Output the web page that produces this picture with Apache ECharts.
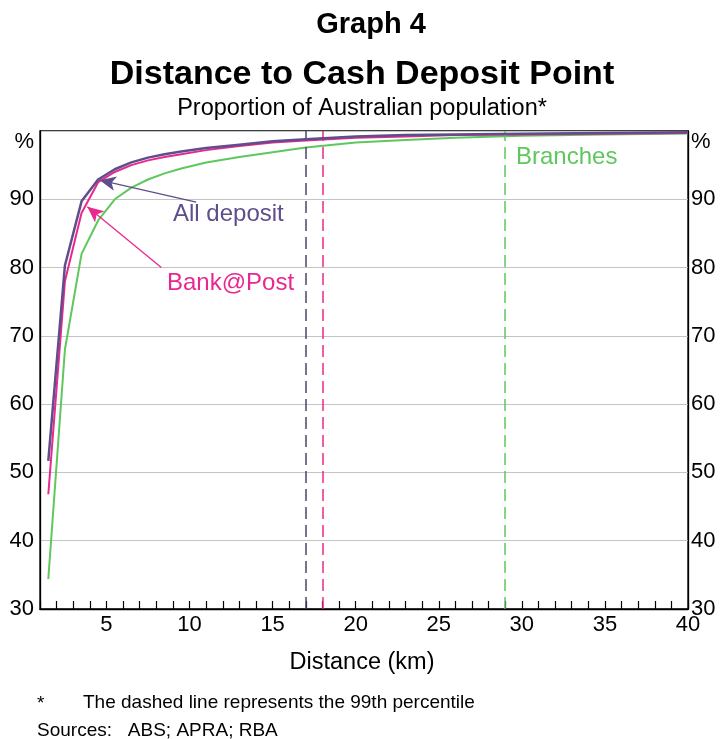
<!DOCTYPE html>
<html>
<head>
<meta charset="utf-8">
<script src="https://cdn.jsdelivr.net/npm/echarts@6/dist/echarts.min.js"></script>
<style>
html,body{margin:0;padding:0;background:#fff;}
#c{width:721px;height:739px;}
</style>
</head>
<body>
<div id="c"></div>
<script>
// Distance (km)
const distanceKm = [1.5, 2.5, 3.5, 4.5, 5.5, 6.5, 7.5, 8.5, 9.5, 11, 13, 15, 17, 20, 23, 26, 30, 35, 40];
// Cumulative share of population (%)
const allDeposit = [51.7, 80.3, 89.7, 92.9, 94.4, 95.4, 96.1, 96.6, 97.0, 97.5, 98.0, 98.5, 98.8, 99.2, 99.4, 99.5, 99.6, 99.7, 99.8];
const bankAtPost = [46.8, 78.0, 88.0, 92.5, 94.0, 95.0, 95.7, 96.2, 96.6, 97.2, 97.8, 98.3, 98.6, 99.0, 99.2, 99.4, 99.5, 99.6, 99.7];
const branches   = [34.4, 68.0, 82.0, 86.9, 90.0, 91.7, 92.9, 93.8, 94.5, 95.4, 96.2, 96.9, 97.6, 98.3, 98.7, 99.0, 99.3, 99.5, 99.65];
// 99th percentile distances (km)
const p99 = { allDeposit: 17, bankAtPost: 18, branches: 29 };
// Annotation arrows [from, to] in data units
const arrowAll  = [[10.4, 89.6], [4.6, 92.8]];
const arrowBank = [[8.3, 80.0], [3.85, 88.9]];

const PURPLE = '#5f4d8c', PINK = '#e8288e', GREEN = '#5ec75e';
const FONT = '"Liberation Sans", Arial, sans-serif';

function pairs(xs, ys){ return xs.map((x,i)=>[x, ys[i]]); }
function yLab(v){ return v === 100 ? '{p|%}' : String(v); }
function arrow(a, color){
  return [
    { coord: a[0], symbol: 'none', lineStyle: { color: color, width: 1.3, type: 'solid' } },
    { coord: a[1], symbol: 'arrow', symbolSize: [11, 16] }
  ];
}
function txt(x, y, s, size, color, align, bold){
  return { type: 'text', x: x, y: y, silent: true,
    style: { text: s, fill: color, font: (bold ? 'bold ' : '') + size + 'px ' + FONT,
      align: align || 'left', verticalAlign: 'middle' } };
}

const chart = echarts.init(document.getElementById('c'));
chart.setOption({
  animation: false,
  backgroundColor: '#fff',
  textStyle: { fontFamily: FONT },
  grid: { left: 40, right: 33, top: 131, bottom: 130, show: true, borderColor: '#000', borderWidth: 1.3 },
  xAxis: {
    type: 'value', min: 1, max: 40, interval: 1,
    axisLine: { lineStyle: { color: '#000', width: 1.3 } },
    axisTick: { inside: true, length: 8, lineStyle: { color: '#000', width: 1.2 } },
    axisLabel: { fontFamily: FONT, fontSize: 22, color: '#000', margin: 5,
      formatter: v => (v % 5 === 0 ? String(v) : '') },
    splitLine: { show: false }
  },
  yAxis: [
    { type: 'value', min: 30, max: 100, interval: 10, position: 'left',
      axisLine: { show: true, lineStyle: { color: '#000', width: 1.3 } }, axisTick: { show: false },
      axisLabel: { fontFamily: FONT, fontSize: 22, color: '#000', margin: 6, formatter: yLab,
        rich: { p: { fontFamily: FONT, fontSize: 22, color: '#000', padding: [22, 0, 0, 0] } } },
      splitLine: { lineStyle: { color: '#c4c4c4', width: 1.2 } } },
    { type: 'value', min: 30, max: 100, interval: 10, position: 'right',
      axisLine: { show: true, lineStyle: { color: '#000', width: 1.3 } }, axisTick: { show: false },
      axisLabel: { fontFamily: FONT, fontSize: 22, color: '#000', margin: 3, formatter: yLab,
        rich: { p: { fontFamily: FONT, fontSize: 22, color: '#000', padding: [22, 0, 0, 0] } } },
      splitLine: { show: false } }
  ],
  series: [
    { name: 'Branches', type: 'line', data: pairs(distanceKm, branches), showSymbol: false,
      lineStyle: { color: GREEN, width: 2 }, z: 3,
      markLine: { silent: true, symbol: ['none','none'], label: { show: false },
        lineStyle: { color: GREEN, width: 1.5, type: [12, 6] },
        data: [{ xAxis: p99.branches }] } },
    { name: 'Bank@Post', type: 'line', data: pairs(distanceKm, bankAtPost), showSymbol: false,
      lineStyle: { color: PINK, width: 2 }, z: 4,
      markLine: { silent: true, symbol: ['none','none'], label: { show: false },
        lineStyle: { color: PINK, width: 1.5, type: [12, 6] },
        data: [{ xAxis: p99.bankAtPost }, arrow(arrowBank, PINK)] } },
    { name: 'All deposit', type: 'line', data: pairs(distanceKm, allDeposit), showSymbol: false,
      lineStyle: { color: PURPLE, width: 2.5 }, z: 5,
      markLine: { silent: true, symbol: ['none','none'], label: { show: false },
        lineStyle: { color: '#4e4468', width: 1.5, type: [12, 6] },
        data: [{ xAxis: p99.allDeposit }, arrow(arrowAll, PURPLE)] } }
  ],
  graphic: [
    txt(371, 25, 'Graph 4', 29, '#000', 'center', true),
    txt(362, 75, 'Distance to Cash Deposit Point', 34, '#000', 'center', true),
    txt(362, 109, 'Proportion of Australian population*', 23.5, '#000', 'center', false),
    txt(173, 214, 'All deposit', 24, PURPLE),
    txt(167, 283, 'Bank@Post', 24, PINK),
    txt(516, 157, 'Branches', 24, GREEN),
    txt(362, 663, 'Distance (km)', 23.5, '#000', 'center'),
    txt(37, 704, '*', 19, '#000'),
    txt(83, 703, 'The dashed line represents the 99th percentile', 19, '#000'),
    txt(37, 731, 'Sources:   ABS; APRA; RBA', 19, '#000')
  ]
});
</script>
</body>
</html>
